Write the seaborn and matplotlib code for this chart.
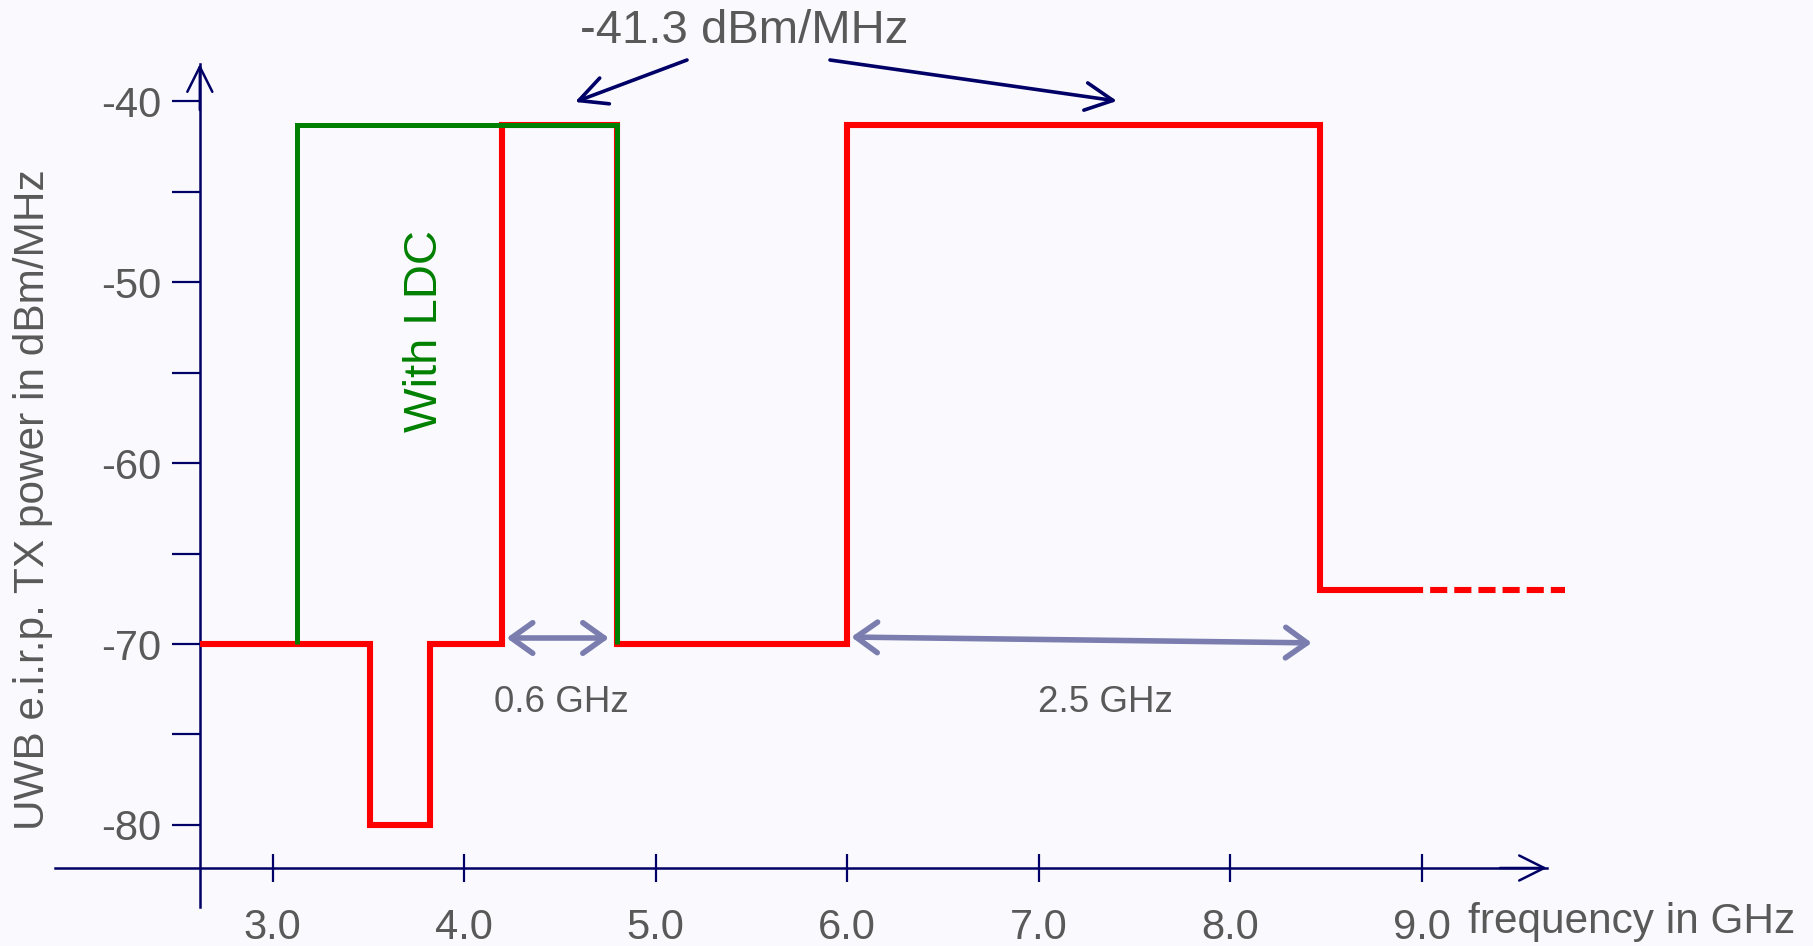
import matplotlib
matplotlib.use("Agg")
import matplotlib.pyplot as plt
import seaborn as sns

# ---------------- data ----------------
red_freq = [2.62, 3.51, 3.82, 4.2, 4.8, 6.0, 8.47, 8.92]
red_level = [-70, -80, -70, -41.3, -70, -41.3, -67, -67]
red_ext_freq = [8.92, 9.75]
red_ext_level = [-67, -67]
green_freq = [3.13, 3.13, 4.8]
green_level = [-70, -41.3, -70]
x_ticks = [3.0, 4.0, 5.0, 6.0, 7.0, 8.0, 9.0]
x_tick_labels = ["3.0", "4.0", "5.0", "6.0", "7.0", "8.0", "9.0"]
y_major = [-40, -50, -60, -70, -80]
y_major_labels = ["-40", "-50", "-60", "-70", "-80"]
y_minor = [-45, -55, -65, -75]
band_narrow = [4.2, 4.8]   # 0.6 GHz
band_wide = [6.0, 8.47]    # 2.5 GHz
limit_label = "-41.3 dBm/MHz"

# ---------------- style ----------------
sns.set_theme(style="white")
plt.rcParams["font.family"] = ["Liberation Sans", "DejaVu Sans"]

BG = "#FAFAFE"
NAVY = "#000066"
GREY_TXT = "#595959"
ARROW_GREY = "#7A7DAE"
RED = "#FF0000"
GREEN = "#008000"

W, H = 1813, 946
fig = plt.figure(figsize=(W / 100, H / 100), dpi=100, facecolor=BG)
ax = fig.add_axes([0, 0, 1, 1])
ax.set_facecolor(BG)

# pixel -> data helpers (for layout only)
def fx(px):
    return 6 + (px - 847.1) / 191.5

def vy(py):
    return -60 + (463.1 - py) / 18.09

ax.set_xlim(fx(0), fx(W))
ax.set_ylim(vy(H), vy(0))

origin_x = red_freq[0]
origin_y = vy(868)

# ---------------- lines ----------------
sns.lineplot(x=red_freq, y=red_level, drawstyle="steps-post", color=RED,
             linewidth=4.4, estimator=None, sort=False, ax=ax,
             solid_joinstyle="miter", solid_capstyle="butt", zorder=3)
sns.lineplot(x=red_ext_freq, y=red_ext_level, color=RED, linewidth=4.4,
             linestyle=(0, (2.8, 1.15)), estimator=None, sort=False, ax=ax,
             dash_capstyle="butt", zorder=3)
sns.lineplot(x=green_freq, y=green_level, drawstyle="steps-post", color=GREEN,
             linewidth=3.6, estimator=None, sort=False, ax=ax,
             solid_joinstyle="miter", solid_capstyle="butt", zorder=4)

# ---------------- axes (crossing spines) ----------------
for s in ["top", "right"]:
    ax.spines[s].set_visible(False)
ax.spines["left"].set_position(("data", origin_x))
ax.spines["bottom"].set_position(("data", origin_y))
ax.spines["left"].set_bounds(vy(907), vy(64))
ax.spines["bottom"].set_bounds(fx(55), fx(1547))
for s in ["left", "bottom"]:
    ax.spines[s].set_color(NAVY)
    ax.spines[s].set_linewidth(1.8)
    ax.spines[s].set_zorder(2)

ax.set_xticks(x_ticks, x_tick_labels)
ax.set_yticks(y_major, y_major_labels)
ax.set_yticks(y_minor, minor=True)
ax.tick_params(axis="x", which="major", direction="inout", length=20, width=1.6,
               color=NAVY, labelcolor=GREY_TXT, labelsize=30, pad=19,
               bottom=True)
ax.tick_params(axis="y", which="both", direction="out", length=20, width=1.6,
               color=NAVY, labelcolor=GREY_TXT, labelsize=30, pad=8, left=True)
ax.grid(False)

# axis arrow heads
ax.annotate("", xy=(fx(1547), origin_y), xytext=(fx(1500), origin_y),
            arrowprops=dict(arrowstyle="->,head_length=0.9,head_width=0.45",
                            color=NAVY, lw=1.8, shrinkA=0, shrinkB=0,
                            mutation_scale=20))
ax.annotate("", xy=(origin_x, vy(64)), xytext=(origin_x, vy(110)),
            arrowprops=dict(arrowstyle="->,head_length=0.9,head_width=0.45",
                            color=NAVY, lw=1.8, shrinkA=0, shrinkB=0,
                            mutation_scale=20))

# axis labels
ax.set_xlabel("frequency in GHz", fontsize=30.5, color=GREY_TXT, ha="left", va="center")
ax.xaxis.set_label_coords(1468 / W, 1 - 922 / H)
ax.set_ylabel("UWB e.i.r.p. TX power in dBm/MHz", fontsize=30.5, color=GREY_TXT,
              ha="center", va="center")
ax.yaxis.set_label_coords(33 / W, 1 - 500 / H)

# ---------------- annotations ----------------
ax.text(fx(425), vy(331), "With LDC", rotation=90, color=GREEN, fontsize=34,
        ha="center", va="center")
ax.text(fx(744), vy(31), limit_label, color=GREY_TXT, fontsize=34,
        ha="center", va="center")

navy_arrow = dict(arrowstyle="->,head_length=0.9,head_width=0.45", color=NAVY,
                  lw=2.6, shrinkA=0, shrinkB=0, mutation_scale=22)
ax.annotate("", xy=(fx(575), vy(102)), xytext=(fx(687), vy(60)), arrowprops=navy_arrow)
ax.annotate("", xy=(fx(1117), vy(101)), xytext=(fx(830), vy(60)), arrowprops=navy_arrow)

grey_arrow = dict(arrowstyle="<->,head_length=0.7,head_width=0.5", color=ARROW_GREY,
                  lw=4, shrinkA=3, shrinkB=6, mutation_scale=22)
ax.annotate("", xy=(band_narrow[1], vy(638)), xytext=(band_narrow[0], vy(638)),
            arrowprops=grey_arrow)
ax.annotate("", xy=(band_wide[1], vy(643)), xytext=(band_wide[0], vy(637)),
            arrowprops=grey_arrow)
ax.text(fx(561), vy(702), "0.6 GHz", color=GREY_TXT, fontsize=26.5,
        ha="center", va="center")
ax.text(fx(1105), vy(702), "2.5 GHz", color=GREY_TXT, fontsize=26.5,
        ha="center", va="center")

fig.savefig("out.png", dpi=100, facecolor=BG)
